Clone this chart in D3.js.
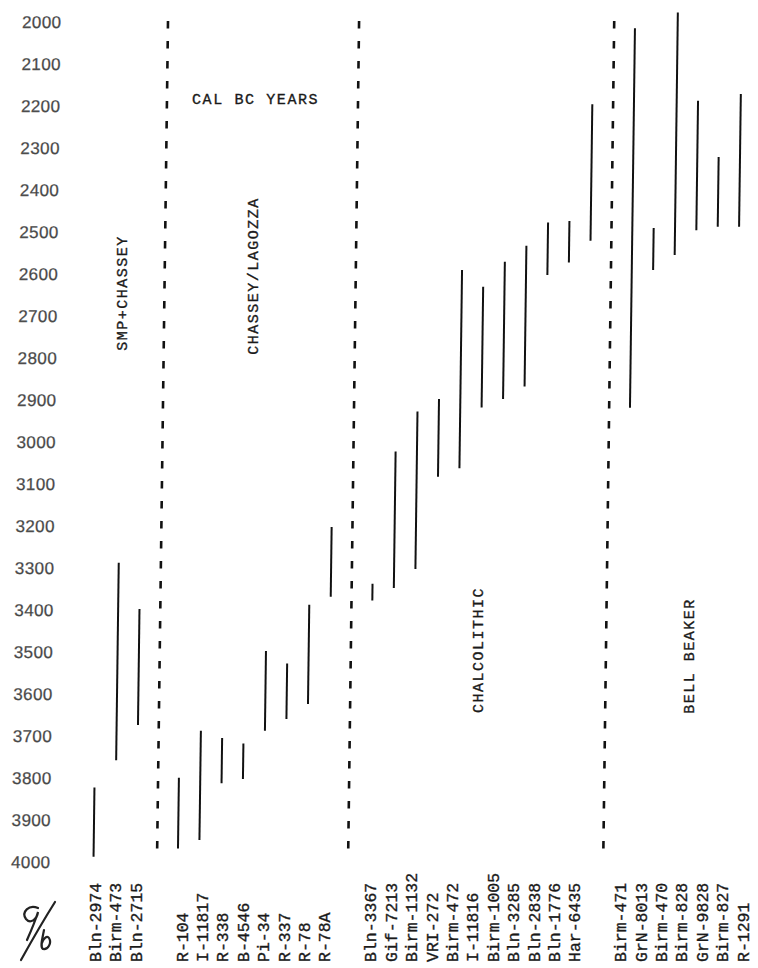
<!DOCTYPE html>
<html>
<head>
<meta charset="utf-8">
<script src="https://cdn.jsdelivr.net/npm/d3@7"></script>
<style>
  body { margin: 0; background: #fff; }
  .typed { font-family: "Liberation Mono", "DejaVu Sans Mono", monospace; fill: #1a1a1a; stroke: #1a1a1a; stroke-width: 0.35px; }
</style>
</head>
<body>
<div id="chart"></div>
<script>
// cultural phases, left to right
var phases = ["SMP+CHASSEY", "CHASSEY/LAGOZZA", "CHALCOLITHIC", "BELL BEAKER"];

// lab codes of the dated samples, in drawing order
var samples = [
  "Bln-2974", "Birm-473", "Bln-2715",
  "R-104", "I-11817", "R-338", "B-4546", "Pi-34", "R-337", "R-78", "R-78A",
  "Bln-3367", "Gif-7213", "Birm-1132", "VRI-272", "Birm-472", "I-11816", "Birm-1005",
  "Bln-3285", "Bln-2838", "Bln-1776", "Har-6435",
  "Birm-471", "GrN-8013", "Birm-470", "Birm-828", "GrN-9828", "Birm-827", "R-1291"
];
// phase index of each sample
var samplePhase = [
  0, 0, 0,
  1, 1, 1, 1, 1, 1, 1, 1,
  2, 2, 2, 2, 2, 2, 2, 2, 2, 2, 2,
  3, 3, 3, 3, 3, 3, 3
];
// calibrated range, cal BC years (young end / old end); R-1291 falls outside the sheet
var calYoung = [
  3825, 3290, 3400,
  3802, 3690, 3707, 3720, 3500, 3530, 3390, 3205,
  3340, 3025, 2930, 2900, 2593, 2633, 2573, 2535, 2480, 2476, 2198,
  2017, 2493, 1980, 2190, 2324, 2174, null
];
var calOld = [
  3990, 3760, 3676,
  3970, 3950, 3815, 3805, 3690, 3662, 3626, 3371,
  3380, 3350, 3305, 3085, 3065, 2920, 2900, 2870, 2605, 2575, 2523,
  2921, 2593, 2557, 2498, 2490, 2490, null
];
var yearTicks = [2000, 2100, 2200, 2300, 2400, 2500, 2600, 2700, 2800, 2900, 3000,
                 3100, 3200, 3300, 3400, 3500, 3600, 3700, 3800, 3900, 4000];

function init() {
  var w = 758;
  var h = 968;
  var barGap = 0.95;    // empty slots between phases (bars)
  var labelGap = 1.25;  // empty slots between phases (typed labels)

  var data = samples.map(function(s, i) {
    return {
      code: s,
      phase: samplePhase[i],
      young: calYoung[i],
      old: calOld[i],
      barSlot: i + samplePhase[i] * barGap,
      labelSlot: i + samplePhase[i] * labelGap
    };
  });

  var yScale = d3.scaleLinear().domain([2000, 4000]).range([21, 861]);
  var xBar = d3.scaleLinear().domain([0, 30]).range([99, 99 + 21.35 * 30]);
  var xLabel = d3.scaleLinear().domain([0, 30]).range([95, 95 + 20.4 * 30]);

  var svg = d3.select("#chart")
    .append("svg")
    .attr("width", w)
    .attr("height", h);

  // the sheet is typed slightly askew
  var sheet = svg.append("g")
    .attr("transform", "translate(0,440) skewX(-0.75) translate(0,-440)");

  // year axis, labels only
  var yAxis = d3.axisLeft(yScale)
    .tickValues(yearTicks)
    .tickSize(0)
    .tickPadding(0)
    .tickFormat(d3.format("d"));

  var axisG = sheet.append("g")
    .attr("transform", "translate(56,0)")
    .call(yAxis);
  axisG.select(".domain").remove();
  axisG.selectAll("text")
    .attr("dy", "0.36em")
    .style("font-family", "'Liberation Sans', Arial, sans-serif")
    .style("font-size", "17px")
    .style("letter-spacing", "0.4px")
    .style("fill", "#444")
    .style("stroke", "#666")
    .style("stroke-width", "0.3px");

  // dashed dividers between phases
  var dividers = d3.range(1, phases.length).map(function(p) {
    var last = data.filter(function(d) { return d.phase === p - 1; });
    return last[last.length - 1].barSlot + (1 + barGap) / 2;
  });

  sheet.selectAll("line.divider")
    .data(dividers)
    .enter()
    .append("line")
    .attr("class", "divider")
    .attr("x1", function(d) { return xBar(d); })
    .attr("x2", function(d) { return xBar(d); })
    .attr("y1", yScale(2000))
    .attr("y2", yScale(4000))
    .attr("stroke", "#111")
    .attr("stroke-width", 2.6)
    .attr("stroke-dasharray", "7.5,12.5");

  // one bar per sample range
  sheet.selectAll("line.range")
    .data(data.filter(function(d) { return d.young !== null; }))
    .enter()
    .append("line")
    .attr("class", "range")
    .attr("x1", function(d) { return xBar(d.barSlot); })
    .attr("x2", function(d) { return xBar(d.barSlot); })
    .attr("y1", function(d) { return yScale(d.young); })
    .attr("y2", function(d) { return yScale(d.old); })
    .attr("stroke", "#111")
    .attr("stroke-width", 2);

  // sample codes along the bottom
  svg.selectAll("text.code")
    .data(data)
    .enter()
    .append("text")
    .attr("class", "code typed")
    .attr("transform", function(d) { return "translate(" + xLabel(d.labelSlot) + ",962) rotate(-90)"; })
    .attr("dy", "0.36em")
    .style("font-size", "16.5px")
    .text(function(d) { return d.code; });

  // phase names, typed vertically
  var phasePos = [[122, 293], [253, 276], [478, 650], [689, 656]];
  svg.selectAll("text.phase")
    .data(phases)
    .enter()
    .append("text")
    .attr("class", "phase typed")
    .attr("transform", function(d, i) { return "translate(" + phasePos[i][0] + "," + phasePos[i][1] + ") rotate(-90)"; })
    .attr("text-anchor", "middle")
    .attr("dy", "0.36em")
    .style("font-size", "15px")
    .style("letter-spacing", "1.5px")
    .text(function(d) { return d; });

  svg.append("text")
    .attr("class", "typed")
    .attr("x", 192)
    .attr("y", 104)
    .style("font-size", "15px")
    .style("letter-spacing", "1.6px")
    .text("CAL BC YEARS");

  // handwritten initials, bottom left
  var sig = svg.append("g")
    .attr("fill", "none")
    .attr("stroke", "#222")
    .attr("stroke-width", 2.2)
    .attr("stroke-linecap", "round");
  sig.append("path").attr("d", "M21,960 C31,942 43,921 55,902");
  sig.append("path").attr("d", "M38,908 C29,904 21,912 26,919 C30,924 37,920 38,912 C35,922 31,931 27,940");
  sig.append("path").attr("d", "M44,930 C42,940 40,947 43,949 C48,950 52,943 49,938 C47,935 43,939 42,943");
}

window.onload = init;
</script>
</body>
</html>
